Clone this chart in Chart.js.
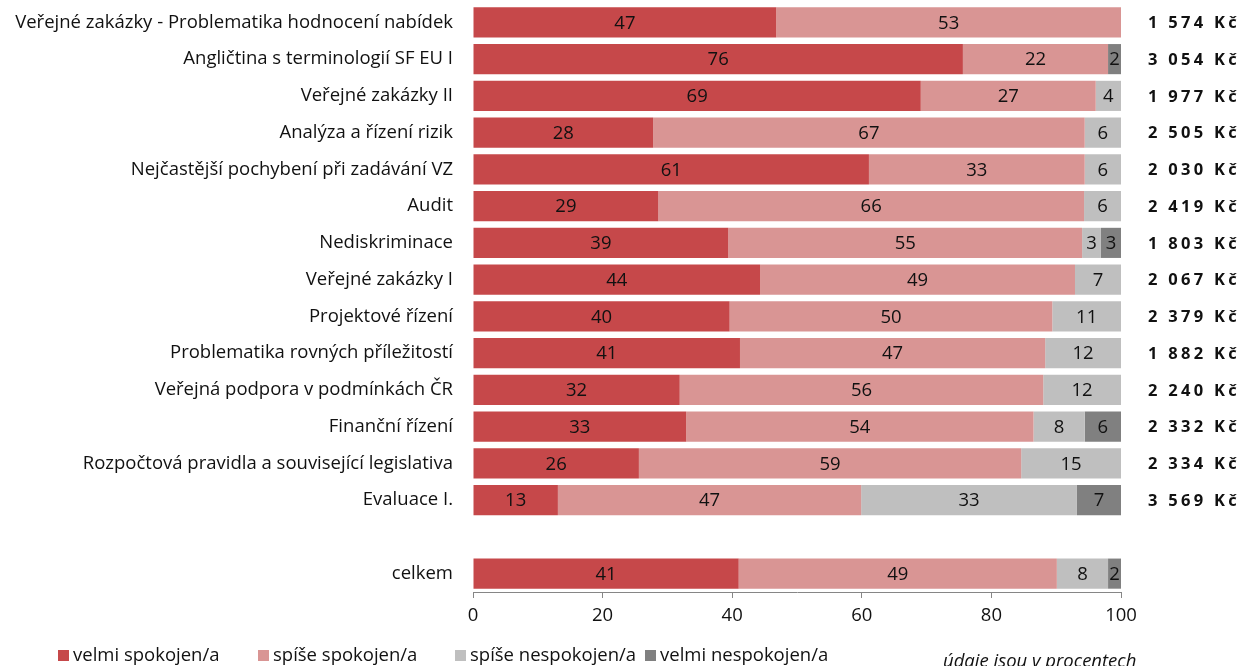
<!DOCTYPE html>
<html>
<head>
<meta charset="utf-8">
<script src="https://cdn.jsdelivr.net/npm/chart.js@4"></script>
<style>
  html, body { margin: 0; padding: 0; background: #fff; }
  #wrap { width: 1243px; height: 666px; }
</style>
</head>
<body>
<div id="wrap"><canvas id="myChart"></canvas></div>
<script>
const categories = [
    'Veřejné zakázky - Problematika hodnocení nabídek',
    'Angličtina s terminologií SF EU I',
    'Veřejné zakázky II',
    'Analýza a řízení rizik',
    'Nejčastější pochybení při zadávání VZ',
    'Audit',
    'Nediskriminace',
    'Veřejné zakázky I',
    'Projektové řízení',
    'Problematika rovných příležitostí',
    'Veřejná podpora v podmínkách ČR',
    'Finanční řízení',
    'Rozpočtová pravidla a související legislativa',
    'Evaluace I.',
    '',
    'celkem'
];
const velmiSpokojen   = [46.8, 75.6, 69.1, 27.8, 61.1, 28.6, 39.4, 44.3, 39.6, 41.2, 31.9, 32.9, 25.6, 13.1, null, 41.0];
const spiseSpokojen   = [53.2, 22.4, 27.0, 66.6, 33.3, 65.7, 54.6, 48.6, 49.8, 47.1, 56.1, 53.6, 59.0, 46.8, null, 49.1];
const spiseNespokojen = [0, 0, 3.9, 5.6, 5.6, 5.7, 2.9, 7.1, 10.6, 11.7, 12.0, 7.9, 15.4, 33.3, null, 7.9];
const velmiNespokojen = [0, 2.0, 0, 0, 0, 0, 3.1, 0, 0, 0, 0, 5.6, 0, 6.8, null, 2.0];
const ceny = ['1 574 Kč', '3 054 Kč', '1 977 Kč', '2 505 Kč', '2 030 Kč', '2 419 Kč', '1 803 Kč',
              '2 067 Kč', '2 379 Kč', '1 882 Kč', '2 240 Kč', '2 332 Kč', '2 334 Kč', '3 569 Kč', '', ''];
const xTicks = [0, 20, 40, 60, 80, 100];
const poznamka = 'údaje jsou v procentech';

const FONT = '"Open Sans"';
const SIZE = 18.5;

// popisky hodnot uvnitř segmentů
const hodnotyPlugin = {
    id: 'hodnoty',
    afterDatasetsDraw(chart) {
        const ctx = chart.ctx;
        ctx.save();
        ctx.font = SIZE + 'px ' + FONT;
        ctx.fillStyle = '#111';
        ctx.textAlign = 'center';
        ctx.textBaseline = 'middle';
        chart.data.datasets.forEach((ds, i) => {
            chart.getDatasetMeta(i).data.forEach((bar, j) => {
                const v = ds.data[j];
                if (!v) return;
                const cx = (bar.x + bar.base) / 2;
                ctx.fillText(String(Math.round(v)), cx, bar.y + 1);
            });
        });
        ctx.restore();
    }
};

// ceny vpravo, legenda a poznámka dole
const doplnkyPlugin = {
    id: 'doplnky',
    afterDraw(chart) {
        const ctx = chart.ctx;
        const y = chart.scales.y;
        ctx.save();
        ctx.font = 'bold 16.5px ' + FONT;
        ctx.letterSpacing = '3.3px';
        ctx.fillStyle = '#111';
        ctx.textAlign = 'left';
        ctx.textBaseline = 'middle';
        ceny.forEach((c, i) => {
            if (c) ctx.fillText(c, 1148, y.getPixelForValue(i) + 1);
        });
        ctx.letterSpacing = '0px';

        const legX = [58, 258, 455, 645];
        const legY = 656;
        ctx.font = SIZE + 'px ' + FONT;
        chart.data.datasets.forEach((ds, i) => {
            ctx.fillStyle = ds.backgroundColor;
            ctx.fillRect(legX[i], legY - 6, 11, 11);
            ctx.fillStyle = '#111';
            ctx.fillText(ds.label, legX[i] + 15, legY);
        });

        ctx.font = 'italic ' + SIZE + 'px ' + FONT;
        ctx.fillText(poznamka, 943, 662);
        ctx.restore();
    }
};

new Chart(document.getElementById('myChart').getContext('2d'), {
    type: 'bar',
    data: {
        labels: categories,
        datasets: [{
            label: 'velmi spokojen/a',
            data: velmiSpokojen,
            backgroundColor: '#C6484A'
        }, {
            label: 'spíše spokojen/a',
            data: spiseSpokojen,
            backgroundColor: '#D99594'
        }, {
            label: 'spíše nespokojen/a',
            data: spiseNespokojen,
            backgroundColor: '#BFBFBF'
        }, {
            label: 'velmi nespokojen/a',
            data: velmiNespokojen,
            backgroundColor: '#808080'
        }]
    },
    options: {
        indexAxis: 'y',
        responsive: true,
        maintainAspectRatio: false,
        animation: false,
        layout: { padding: { top: 4, right: 122, left: 0, bottom: 0 } },
        datasets: {
            bar: {
                categoryPercentage: 0.82,
                barPercentage: 1,
                borderWidth: 0
            }
        },
        plugins: {
            legend: { display: false },
            tooltip: { enabled: false }
        },
        scales: {
            x: {
                stacked: true,
                min: 0,
                max: 100,
                afterBuildTicks: (s) => { s.ticks = xTicks.map(v => ({ value: v })); },
                afterFit: (s) => { s.height = 74; },
                grid: { drawOnChartArea: false, drawTicks: true, tickLength: 6, color: '#868686' },
                border: { display: true, color: '#868686' },
                ticks: { color: '#111', font: { family: FONT, size: SIZE }, padding: 7 }
            },
            y: {
                stacked: true,
                afterFit: (s) => { s.width = 473; s.paddingTop = 0; s.paddingBottom = 0; },
                grid: { display: false, drawTicks: false },
                border: { display: false },
                ticks: { color: '#111', font: { family: FONT, size: SIZE }, padding: 20, autoSkip: false }
            }
        }
    },
    plugins: [hodnotyPlugin, doplnkyPlugin]
});
</script>
</body>
</html>
